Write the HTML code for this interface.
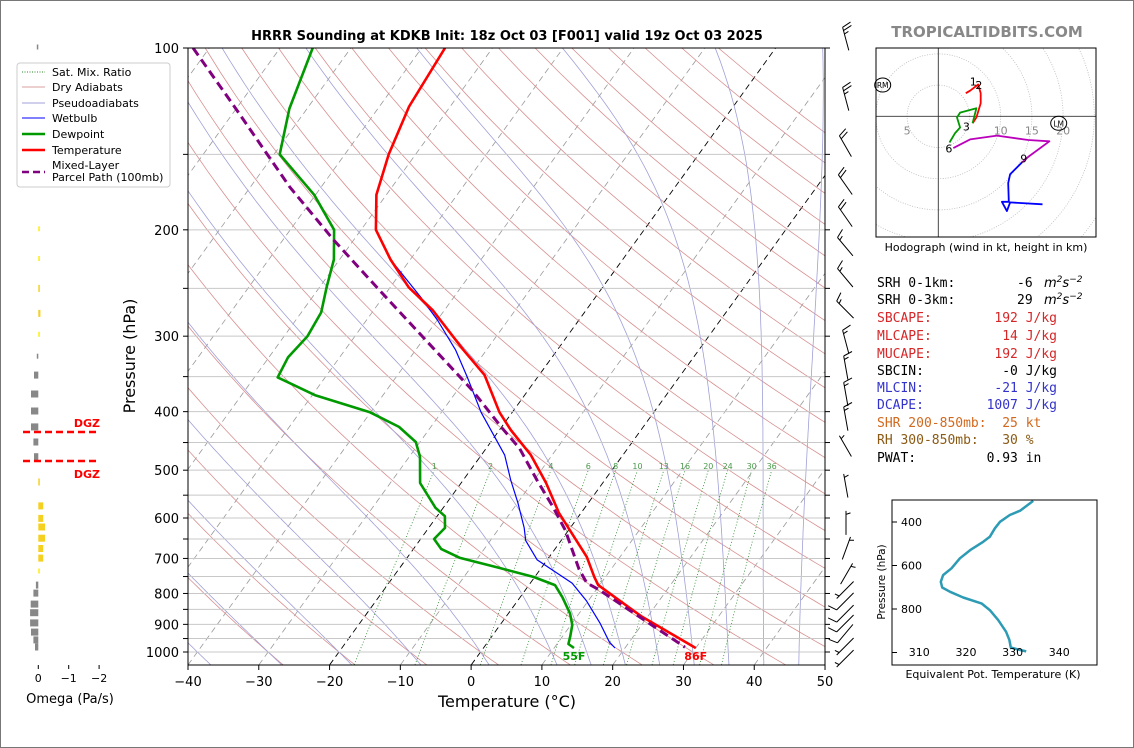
<!DOCTYPE html>
<html><head><meta charset="utf-8"><style>
html,body{margin:0;padding:0;background:#fff;}
svg{display:block;font-family:"DejaVu Sans","Liberation Sans",sans-serif;}
.pre{white-space:pre;}
</style></head><body>
<svg id="c" width="1134" height="748" viewBox="0 0 1134 748" xmlns="http://www.w3.org/2000/svg">
<defs>
<clipPath id="mainClip"><rect x="188" y="48" width="637" height="617"/></clipPath>
<clipPath id="hodoClip"><rect x="876" y="48" width="220" height="189"/></clipPath>
<clipPath id="thClip"><rect x="892" y="500" width="205" height="165"/></clipPath>
</defs>
<rect x="0.5" y="0.5" width="1133" height="747" fill="#fff" stroke="#777"/>
<text x="507" y="40" font-size="13" font-weight="bold" text-anchor="middle">HRRR Sounding at KDKB Init: 18z Oct 03 [F001] valid 19z Oct 03 2025</text>
<text x="987" y="37" font-size="15" font-weight="bold" fill="#888" text-anchor="middle">TROPICALTIDBITS.COM</text>
<g id="bg" clip-path="url(#mainClip)"></g>
<g id="grid"></g>
<g id="series" clip-path="url(#mainClip)"></g>
<g id="axes"></g>
<g id="barbs"></g>
<g id="omega"></g>
<g id="hodo"></g>
<g id="theta"></g>
<g font-size="11">
<rect x="17" y="63" width="153" height="124" rx="3" fill="#fff" stroke="#ccc"/>
<line x1="22" y1="72" x2="45" y2="72" stroke="#2a8a2a" stroke-dasharray="1,1.5"/>
<text x="52" y="76">Sat. Mix. Ratio</text>
<line x1="22" y1="87" x2="45" y2="87" stroke="#d8a0a0"/>
<text x="52" y="91">Dry Adiabats</text>
<line x1="22" y1="103" x2="45" y2="103" stroke="#a0a0d8"/>
<text x="52" y="107">Pseudoadiabats</text>
<line x1="22" y1="118" x2="45" y2="118" stroke="#0000ff"/>
<text x="52" y="122">Wetbulb</text>
<line x1="22" y1="134" x2="45" y2="134" stroke="#009900" stroke-width="2.5"/>
<text x="52" y="138">Dewpoint</text>
<line x1="22" y1="150" x2="45" y2="150" stroke="#ff0000" stroke-width="2.5"/>
<text x="52" y="154">Temperature</text>
<line x1="22" y1="172" x2="45" y2="172" stroke="#800080" stroke-width="2.5" stroke-dasharray="7,4"/>
<text x="52" y="169">Mixed-Layer</text>
<text x="52" y="181">Parcel Path (100mb)</text>
</g>
<g font-family="'DejaVu Sans Mono','Liberation Mono',monospace" font-size="13">
<text x="877" y="287" class="pre">SRH 0-1km:<tspan x="1017">-6</tspan><tspan x="1044" font-style="italic" font-family="'DejaVu Sans',sans-serif">m<tspan font-size="9" dy="-5">2</tspan><tspan dy="5">s</tspan><tspan font-size="9" dy="-5">−2</tspan></tspan></text>
<text x="877" y="304" class="pre">SRH 0-3km:<tspan x="1017">29</tspan><tspan x="1044" font-style="italic" font-family="'DejaVu Sans',sans-serif">m<tspan font-size="9" dy="-5">2</tspan><tspan dy="5">s</tspan><tspan font-size="9" dy="-5">−2</tspan></tspan></text>
<text x="877" y="322" class="pre" fill="#d62728">SBCAPE:        192 J/kg</text>
<text x="877" y="340" class="pre" fill="#d62728">MLCAPE:         14 J/kg</text>
<text x="877" y="358" class="pre" fill="#d62728">MUCAPE:        192 J/kg</text>
<text x="877" y="375" class="pre">SBCIN:          -0 J/kg</text>
<text x="877" y="392" class="pre" fill="#3333cc">MLCIN:         -21 J/kg</text>
<text x="877" y="409" class="pre" fill="#3333cc">DCAPE:        1007 J/kg</text>
<text x="877" y="427" class="pre" fill="#d2691e">SHR 200-850mb:  25 kt</text>
<text x="877" y="444" class="pre" fill="#8b5a14">RH 300-850mb:   30 %</text>
<text x="877" y="462" class="pre">PWAT:         0.93 in</text>
</g>
</svg>
<script>
// ---- data ----
const tempP=[100,125,150,175,200,224,249,272,316,348,401,429,472,525,589,696,751,775,872,985];
const tempT=[-66.7,-65.8,-63.8,-61.4,-57.9,-52.8,-47.4,-41.6,-33.3,-27.7,-21.8,-18.4,-13.0,-8.0,-3.1,5.3,8.4,9.8,19.0,30.0];
const dewP=[100,126,150,175,200,224,249,274,300,325,351,376,401,424,449,475,525,577,596,623,650,675,698,725,751,775,812,863,902,943,970,985];
const dewT=[-85.4,-82.5,-79.2,-70.2,-63.8,-60.8,-59.0,-57.2,-56.7,-57.3,-56.7,-49.5,-40.1,-34.5,-30.6,-28.5,-25.8,-21.1,-18.9,-17.7,-18.1,-16.1,-12.6,-6.1,-0.2,3.7,6.0,8.7,10.2,11.1,11.6,12.8];
const wbP=[224,258,282,316,351,401,472,519,567,623,654,704,769,822,895,963,985];
const wbT=[-52.8,-44.8,-40.0,-34.4,-29.9,-24.4,-16.7,-13.3,-9.9,-6.5,-5.0,-1.4,5.9,9.7,13.9,17.2,18.6];
const parP=[100,125,170,208,249,310,368,426,460,519,575,628,730,769,788,982];
const parT=[-102.3,-90.5,-74.4,-62.8,-51.9,-38.5,-28.0,-19.8,-15.3,-9.6,-4.6,-0.5,5.5,8.0,10.3,28.4];
const mixW=[1,2,4,6,8,10,13,16,20,24,30,36];
const windP=[97,122,146,169,191,214,241,272,308,340,376,413,458,533,614,676,745,787,822,861,894,929,976,1022];
const windDir=[345,345,330,325,325,320,320,315,345,350,350,350,330,350,0,20,30,225,225,225,225,220,225,225];
const windSpd=[25,25,20,20,20,15,15,15,15,15,15,15,5,5,5,5,5,5,10,10,10,10,5,5];
const omegaP=[100,150,200,224,250,275,299,325,348,374,399,424,449,475,523,573,601,621,648,674,699,737,775,799,833,861,895,927,955,981];
const omegaV=[0.02,-0.03,-0.03,-0.03,-0.05,-0.07,-0.02,0.02,0.14,0.24,0.24,0.24,0.16,0.14,-0.05,-0.16,-0.16,-0.22,-0.22,-0.16,-0.16,-0.03,0.08,0.16,0.25,0.27,0.27,0.24,0.16,0.11];
const hodoRedU=[4.4,5.1,6.4,6.8,6.8,6.1,5.5];
const hodoRedV=[3.7,4.1,5.1,3.7,2.1,-0.2,-1.1];
const hodoGreenU=[5.5,6.1,3.5,3.0,3.5,2.7,1.8];
const hodoGreenV=[-1.1,1.3,0.6,-0.2,-1.8,-2.7,-4.2];
const hodoMagU=[2.4,5.1,9.4,14.4,17.8,14.4,13.4];
const hodoMagV=[-5.1,-3.7,-3.1,-3.8,-4.0,-6.5,-7.4];
const hodoBlueU=[13.4,11.5,11.2,11.3,10.2,11.0,11.5,16.7];
const hodoBlueV=[-7.4,-9.3,-10.7,-13.7,-13.7,-15.2,-13.8,-14.1];
const thetaP=[303,348,368,399,429,468,491,529,567,613,644,675,701,721,747,775,805,851,905,943,977,986,995];
const thetaE=[334.4,331.6,329.4,327.3,326.2,325.1,323.7,320.9,318.7,316.9,315.1,314.6,314.9,316.6,319.4,323.4,325.1,326.9,328.6,329.3,329.6,331.2,332.9];
const xTicks=[-40,-30,-20,-10,0,10,20,30,40,50];
const pLabels=[100,200,300,400,500,600,700,800,900,1000];

// ---- scales ----
const NS='http://www.w3.org/2000/svg';
function yP(p){return 48+Math.log10(p/100)*604;}
function xT(T,p){return 188+(T+40)*7.078+(665-yP(p))*0.7229;}
function mk(tag,parent){const e=document.createElementNS(NS,tag);parent.appendChild(e);return e;}
function poly(parent,pts,stroke,w,dash){const e=mk('polyline',parent);e.setAttribute('points',pts.map(a=>a[0].toFixed(1)+','+a[1].toFixed(1)).join(' '));e.setAttribute('fill','none');e.setAttribute('stroke',stroke);e.setAttribute('stroke-width',w);if(dash)e.setAttribute('stroke-dasharray',dash);e.setAttribute('stroke-linejoin','round');return e;}
const bg=document.getElementById('bg'),grid=document.getElementById('grid'),ser=document.getElementById('series'),ax=document.getElementById('axes');
const pLevels=[];for(let p=1050;p>=100;p-=10)pLevels.push(p);

for(let T=-140;T<=50;T+=10){
  const l=poly(bg,[[xT(T,1050),yP(1050)],[xT(T,100),yP(100)]],(T===0||T===-20)?'#000':'#999',(T===0||T===-20)?0.9:0.8,'6,4');
  
  
}
for(let th=-30;th<=200;th+=10){
  const pts=pLevels.map(p=>[xT((th+273.15)*Math.pow(p/1000,0.2857)-273.15,p),yP(p)]);
  const l=poly(bg,pts,'#d89090',0.8);
  
  
}
function es(Tc){return 6.112*Math.exp(17.67*Tc/(Tc+243.5));}
function moistLapse(Tk,p){const rs=0.622*es(Tk-273.15)/(p-es(Tk-273.15));const Rd=287,Lv=2.5e6,Cp=1005;return (Rd*Tk+Lv*rs)/(p*(Cp+Lv*Lv*rs*0.622/(Rd*Tk*Tk)));}
const moistStarts=[-50,-40,-30,-20,-10,0,10,15,20,25,30,35,40,45];
moistStarts.forEach(t0=>{
  let pts=[];let T=t0+273.15;
  for(let p=1000;p>=100;p-=5){pts.push([xT(T-273.15,p),yP(p)]);T-=moistLapse(T,p)*5;}
  let T2=t0+273.15;const low=[];for(let p=1000;p<=1050;p+=5){low.push([xT(T2-273.15,p),yP(p)]);T2+=moistLapse(T2,p)*5;}
  pts=low.reverse().concat(pts);
  const l=poly(bg,pts,'#a0a0d8',0.8);
  
  
});
mixW.forEach(w=>{
  const pts=[];for(let p=1050;p>=500;p-=10){const e=w*p/(622+w);const g=Math.log(e/6.112);pts.push([xT(243.5*g/(17.67-g),p),yP(p)]);}
  const l=poly(bg,pts,'#2a8a2a',0.8,'1,2');
  
  
  const e5=w*500/(622+w),g5=Math.log(e5/6.112);
  const t=mk('text',bg);t.textContent=String(w);t.setAttribute('x',xT(243.5*g5/(17.67-g5),500).toFixed(1));t.setAttribute('y','469');t.setAttribute('font-size','8');t.setAttribute('fill','#4a9a4a');t.setAttribute('text-anchor','middle');
  
  
});
for(let p=100;p<=1000;p+=50){
  const l=mk('line',grid);l.setAttribute('x1',188);l.setAttribute('x2',825);l.setAttribute('y1',yP(p));l.setAttribute('y2',yP(p));l.setAttribute('stroke','#c8c8c8');l.setAttribute('stroke-width','1');
  
  
  [[183,188],[825,830]].forEach(a=>{const t=mk('line',ax);t.setAttribute('x1',a[0]);t.setAttribute('x2',a[1]);t.setAttribute('y1',yP(p));t.setAttribute('y2',yP(p));t.setAttribute('stroke','#000');
    
    });
}
function line(P,T,c,w,dash,name){const l=poly(ser,P.map((p,i)=>[xT(T[i],p),yP(p)]),c,w,dash);
  
  }
line(wbP,wbT,'#0000ff',1.2,null,'wetbulb-line');
line(dewP,dewT,'#009900',2.6,null,'dewpoint-line');
line(tempP,tempT,'#ff0000',2.6,null,'temperature-line');
line(parP,parT,'#800080',3,'9,5','parcel-path-line');
const sD=mk('text',ax);sD.textContent=Math.round(dewT[dewT.length-1]*9/5+32)+'F';sD.setAttribute('x',xT(dewT[dewT.length-1],dewP[dewP.length-1]));sD.setAttribute('y','660');sD.setAttribute('font-size','11');sD.setAttribute('font-weight','bold');sD.setAttribute('fill','#009900');sD.setAttribute('text-anchor','middle');


const sT=mk('text',ax);sT.textContent=Math.round(tempT[tempT.length-1]*9/5+32)+'F';sT.setAttribute('x',xT(tempT[tempT.length-1],tempP[tempP.length-1]));sT.setAttribute('y','660');sT.setAttribute('font-size','11');sT.setAttribute('font-weight','bold');sT.setAttribute('fill','#ff0000');sT.setAttribute('text-anchor','middle');


const fr=mk('rect',ax);fr.setAttribute('x',188);fr.setAttribute('y',48);fr.setAttribute('width',637);fr.setAttribute('height',617);fr.setAttribute('fill','none');fr.setAttribute('stroke','#000');fr.setAttribute('stroke-width','1');


xTicks.forEach(T=>{const x=188+(T+40)*7.078;const t=mk('line',ax);t.setAttribute('x1',x);t.setAttribute('x2',x);t.setAttribute('y1',665);t.setAttribute('y2',670);t.setAttribute('stroke','#000');
  
  
  const l=mk('text',ax);l.textContent=(T<0?'−':'')+Math.abs(T);l.setAttribute('x',x);l.setAttribute('y',686);l.setAttribute('font-size','13');l.setAttribute('text-anchor','middle');
  
  });
pLabels.forEach(p=>{const l=mk('text',ax);l.textContent=p;l.setAttribute('x',179);l.setAttribute('y',yP(p)+5);l.setAttribute('font-size','13');l.setAttribute('text-anchor','end');
  
  });
const xl=mk('text',ax);xl.textContent='Temperature (°C)';xl.setAttribute('x',507);xl.setAttribute('y',707);xl.setAttribute('font-size','16');xl.setAttribute('text-anchor','middle');


const yl=mk('text',ax);yl.textContent='Pressure (hPa)';yl.setAttribute('transform','translate(135,356) rotate(-90)');yl.setAttribute('font-size','16');yl.setAttribute('text-anchor','middle');



const bb=document.getElementById('barbs');
windP.forEach((p,i)=>{
  const g=mk('g',bb);
  
  
  const d=windDir[i]*Math.PI/180,ux=Math.sin(d),uy=-Math.cos(d);const L=24;
  const bx=846-ux*L*0.45,by=yP(p)-uy*L*0.45;const tx=bx+ux*L,ty=by+uy*L;
  let s='M'+bx.toFixed(1)+','+by.toFixed(1)+'L'+tx.toFixed(1)+','+ty.toFixed(1);
  const px=-uy,py=ux;let spd=windSpd[i],k=0;
  while(spd>=10){const sx=tx-ux*k*3.5,sy=ty-uy*k*3.5;s+='M'+sx.toFixed(1)+','+sy.toFixed(1)+'l'+(px*9+ux*3).toFixed(1)+','+(py*9+uy*3).toFixed(1);spd-=10;k++;}
  if(spd>=5){if(k===0)k=1;const sx=tx-ux*k*3.5,sy=ty-uy*k*3.5;s+='M'+sx.toFixed(1)+','+sy.toFixed(1)+'l'+(px*4.5+ux*1.5).toFixed(1)+','+(py*4.5+uy*1.5).toFixed(1);}
  const pa=mk('path',g);pa.setAttribute('d',s);pa.setAttribute('stroke','#000');pa.setAttribute('stroke-width','1');pa.setAttribute('fill','none');
});

const om=document.getElementById('omega');const ox0=38.3,os=30.4;
omegaP.forEach((p,i)=>{const v=omegaV[i];const w=Math.max(Math.abs(v)*os,1.5);const r=mk('rect',om);
  r.setAttribute('x',(v>0?ox0-w:ox0).toFixed(1));r.setAttribute('y',(yP(p)-3.5).toFixed(1));r.setAttribute('width',w.toFixed(1));r.setAttribute('height',Math.abs(v)<0.04?5:7);
  r.setAttribute('fill',v>0?'#888':(Math.abs(v)<0.04?'#ffee00':'#f5d020'));
  
  });
[[432,423],[461,474]].forEach((a,i)=>{const l=mk('line',om);l.setAttribute('x1',23);l.setAttribute('x2',99);l.setAttribute('y1',a[0]);l.setAttribute('y2',a[0]);l.setAttribute('stroke','#ff0000');l.setAttribute('stroke-width','2.5');l.setAttribute('stroke-dasharray','7,4');
  
  
  const t=mk('text',om);t.textContent='DGZ';t.setAttribute('x',100);t.setAttribute('y',a[1]+4);t.setAttribute('font-size','11');t.setAttribute('font-weight','bold');t.setAttribute('fill','#ff0000');t.setAttribute('text-anchor','end');
  
  });
[0,-1,-2].forEach(v=>{const x=ox0-v*os;const t=mk('line',om);t.setAttribute('x1',x);t.setAttribute('x2',x);t.setAttribute('y1',665);t.setAttribute('y2',669);t.setAttribute('stroke','#000');
  
  
  const l=mk('text',om);l.textContent=v===0?'0':'−'+Math.abs(v);l.setAttribute('x',x);l.setAttribute('y',682);l.setAttribute('font-size','11');l.setAttribute('text-anchor','middle');
  
  });
const olab=mk('text',om);olab.textContent='Omega (Pa/s)';olab.setAttribute('x',70);olab.setAttribute('y',703);olab.setAttribute('font-size','13');olab.setAttribute('text-anchor','middle');



const ho=document.getElementById('hodo');const hcx=938.3,hcy=116.3,hs=6.24;
const hc=mk('g',ho);hc.setAttribute('clip-path','url(#hodoClip)');
for(let r=5;r<=35;r+=5){const c=mk('circle',hc);c.setAttribute('cx',hcx);c.setAttribute('cy',hcy);c.setAttribute('r',r*hs);c.setAttribute('fill','none');c.setAttribute('stroke','#bbb');c.setAttribute('stroke-dasharray','1,1.5');c.setAttribute('stroke-width','0.8');
  
  }
[[hcx,48,hcx,237],[876,hcy,1096,hcy]].forEach(a=>{const l=mk('line',hc);l.setAttribute('x1',a[0]);l.setAttribute('y1',a[1]);l.setAttribute('x2',a[2]);l.setAttribute('y2',a[3]);l.setAttribute('stroke','#333');l.setAttribute('stroke-width','0.9');
  
  });
[[5,-5],[10,10],[15,15],[20,20]].forEach(a=>{const t=mk('text',hc);t.textContent=String(a[0]);t.setAttribute('x',hcx+a[1]*hs);t.setAttribute('y',hcy+18);t.setAttribute('font-size','11');t.setAttribute('fill','#888');t.setAttribute('text-anchor','middle');
  
  });
function hseg(U,V,c,name){const l=poly(hc,U.map((u,i)=>[hcx+u*hs,hcy-V[i]*hs]),c,1.8);
  
  }
hseg(hodoRedU,hodoRedV,'#ff0000','hodograph-0-3km');
hseg(hodoGreenU,hodoGreenV,'#009900','hodograph-3-6km');
hseg(hodoMagU,hodoMagV,'#bb00bb','hodograph-6-9km');
hseg(hodoBlueU,hodoBlueV,'#0000ff','hodograph-9-12km');
[['1',5.6,5.6],['2',6.5,5.0],['3',4.5,-1.6],['6',1.7,-5.2],['9',13.7,-6.8]].forEach(a=>{const t=mk('text',hc);t.textContent=a[0];t.setAttribute('x',hcx+a[1]*hs);t.setAttribute('y',hcy-a[2]*hs+4);t.setAttribute('font-size','11');t.setAttribute('text-anchor','middle');
  
  });
[['RM',882.7,85],['LM',1058.7,123.3]].forEach(a=>{const e=mk('ellipse',ho);e.setAttribute('cx',a[1]);e.setAttribute('cy',a[2]);e.setAttribute('rx',8);e.setAttribute('ry',7);e.setAttribute('fill','none');e.setAttribute('stroke','#000');
  
  
  const t=mk('text',ho);t.textContent=a[0];t.setAttribute('x',a[1]);t.setAttribute('y',a[2]+3);t.setAttribute('font-size','7.5');t.setAttribute('text-anchor','middle');
  
  });
const hb=mk('rect',ho);hb.setAttribute('x',876);hb.setAttribute('y',48);hb.setAttribute('width',220);hb.setAttribute('height',189);hb.setAttribute('fill','none');hb.setAttribute('stroke','#000');


const ht=mk('text',ho);ht.textContent='Hodograph (wind in kt, height in km)';ht.setAttribute('x',986);ht.setAttribute('y',251);ht.setAttribute('font-size','11');ht.setAttribute('text-anchor','middle');



const th=document.getElementById('theta');
function thY(p){return 522+(p-400)*0.2175;}function thX(t){return 919.3+(t-310)*4.667;}
const thc=mk('g',th);thc.setAttribute('clip-path','url(#thClip)');
const tl=poly(thc,thetaP.map((p,i)=>[thX(thetaE[i]),thY(p)]),'#2e9bb5',2.5);


const tb=mk('rect',th);tb.setAttribute('x',892);tb.setAttribute('y',500);tb.setAttribute('width',205);tb.setAttribute('height',165);tb.setAttribute('fill','none');tb.setAttribute('stroke','#000');


[400,600,800,1000].forEach(p=>{const t=mk('line',th);t.setAttribute('x1',892);t.setAttribute('x2',897);t.setAttribute('y1',thY(p));t.setAttribute('y2',thY(p));t.setAttribute('stroke','#000');
  
  
  if(p<1000){const l=mk('text',th);l.textContent=p;l.setAttribute('x',901);l.setAttribute('y',thY(p)+4);l.setAttribute('font-size','11');
  
  }});
[310,320,330,340].forEach(v=>{const l=mk('text',th);l.textContent=v;l.setAttribute('x',thX(v));l.setAttribute('y',656);l.setAttribute('font-size','11');l.setAttribute('text-anchor','middle');
  
  });
const tyl=mk('text',th);tyl.textContent='Pressure (hPa)';tyl.setAttribute('transform','translate(885,582) rotate(-90)');tyl.setAttribute('font-size','10.5');tyl.setAttribute('text-anchor','middle');


const txl=mk('text',th);txl.textContent='Equivalent Pot. Temperature (K)';txl.setAttribute('x',993);txl.setAttribute('y',678);txl.setAttribute('font-size','11');txl.setAttribute('text-anchor','middle');


</script>
</body></html>
